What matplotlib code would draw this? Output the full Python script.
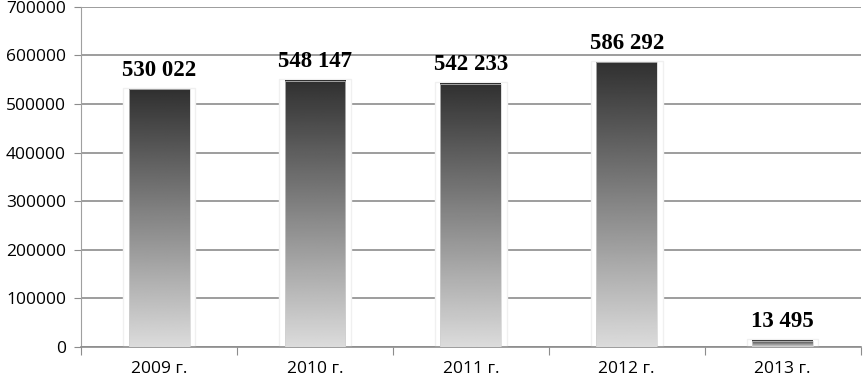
import numpy as np
import matplotlib
matplotlib.use('Agg')
import matplotlib.pyplot as plt
from matplotlib.patches import Rectangle

# Data
years = ['2009 г.', '2010 г.', '2011 г.', '2012 г.', '2013 г.']
values = [530022, 548147, 542233, 586292, 13495]
value_labels = ['530 022', '548 147', '542 233', '586 292', '13 495']
yticks = [0, 100000, 200000, 300000, 400000, 500000, 600000, 700000]

fig = plt.figure(figsize=(8.64, 3.81), dpi=100)
ax = fig.add_axes([0.094, 0.089, 0.902, 0.893])

bar_w = 0.39
# vertical gradient: dark at top, light at bottom
grad = np.linspace(0.19, 0.86, 256).reshape(-1, 1)

for i, v in enumerate(values):
    x0 = i - bar_w / 2
    # faint glow around the bar (hides the grid lines next to it)
    ax.add_patch(Rectangle((x0 - 0.035, 0), bar_w + 0.07, v + 3000,
                           facecolor='white', edgecolor='#f0f0f0', lw=1.0, zorder=2))
    ax.imshow(grad, cmap='gray', vmin=0, vmax=1, aspect='auto',
              extent=[x0, x0 + bar_w, 0, v], origin='upper', zorder=3,
              interpolation='bilinear')
    ax.add_patch(Rectangle((x0, 0), bar_w, v, fill=False,
                           edgecolor='#d0d0d0', lw=0.5, zorder=4))
    ax.annotate(value_labels[i], (i, v), xytext=(0, 6), textcoords='offset points',
                ha='center', va='bottom', fontsize=16.5, fontweight='bold',
                family='Liberation Serif', color='black', zorder=5)

ax.set_xlim(-0.5, len(values) - 0.5)
ax.set_ylim(0, 700000)
ax.set_yticks(yticks)
ax.set_yticklabels([str(t) for t in yticks], fontsize=12.5, family='Open Sans')
ax.yaxis.grid(True, color='#8c8c8c', lw=1.2, zorder=0)
ax.set_axisbelow(True)

# category labels centred, tick marks on boundaries
ax.set_xticks(np.arange(-0.5, len(values)), minor=False)
ax.set_xticklabels([])
ax.set_xticks(np.arange(len(values)), minor=True)
ax.set_xticklabels(years, minor=True, fontsize=12.5, family='Open Sans')
ax.tick_params(axis='x', which='minor', length=0, pad=10)
ax.tick_params(axis='x', which='major', length=6, color='#8c8c8c', direction='out')
ax.tick_params(axis='y', length=5, color='#8c8c8c', pad=6)

for s in ['top', 'right']:
    ax.spines[s].set_visible(False)
ax.spines['left'].set_color('#a0a0a0')
ax.spines['bottom'].set_color('#8c8c8c')
ax.spines['bottom'].set_linewidth(1.2)

fig.savefig('out.png', dpi=100)
